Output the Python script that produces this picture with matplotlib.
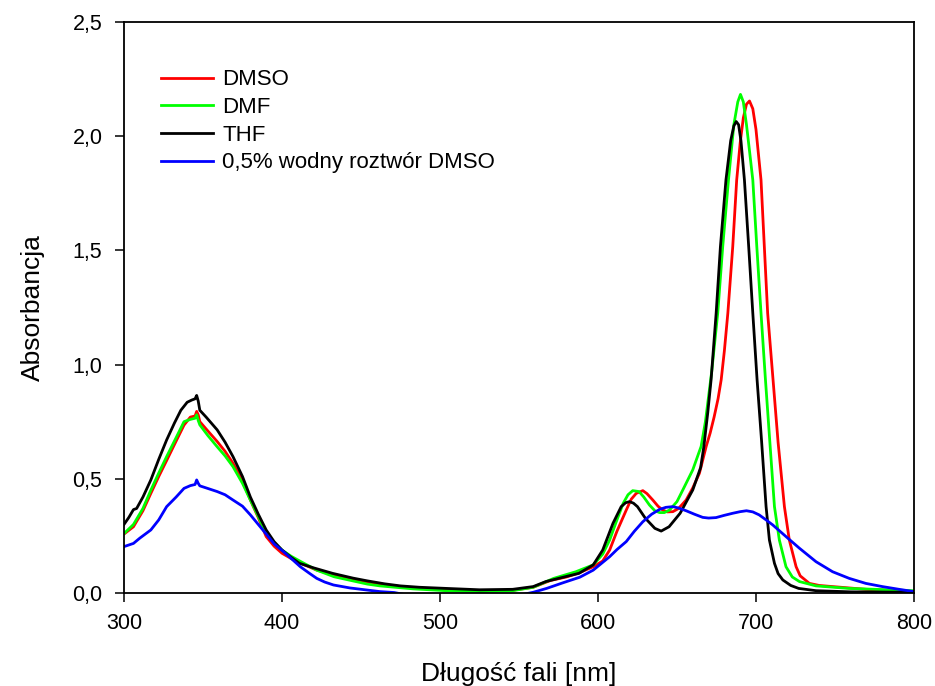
import matplotlib
matplotlib.use("Agg")
import matplotlib.pyplot as plt
from matplotlib.ticker import FuncFormatter

plt.rcParams['font.family'] = ['Liberation Sans', 'DejaVu Sans']

# ---- data ----
wl_thf = [300, 303, 306, 308, 312, 317, 322, 327, 332, 336, 340, 343, 345, 346, 347, 348,
          352, 359, 364, 369, 375, 380, 385, 390, 395, 400, 405, 411, 420, 432, 445, 454,
          465, 475, 487, 504, 525, 546, 559, 567, 578, 588, 597, 603, 609.5, 614.7, 617.5,
          620, 622.5, 625, 630, 636, 640, 645, 652, 660, 665, 667, 669.5, 671.6, 674.8,
          677.5, 681, 684, 686, 687.5, 689, 690.5, 692.7, 695.4, 698, 700.7, 703.5, 706.4,
          708.5, 711.7, 714, 717, 722, 727, 738, 760, 800]
a_thf = [0.30, 0.33, 0.365, 0.37, 0.42, 0.495, 0.585, 0.67, 0.745, 0.80, 0.835, 0.845,
         0.85, 0.865, 0.84, 0.80, 0.77, 0.714, 0.66, 0.597, 0.51, 0.42, 0.345, 0.276,
         0.225, 0.188, 0.16, 0.13, 0.11, 0.086, 0.065, 0.053, 0.04, 0.031, 0.025, 0.02,
         0.014, 0.016, 0.028, 0.05, 0.069, 0.086, 0.123, 0.188, 0.305, 0.378, 0.395, 0.40,
         0.393, 0.378, 0.327, 0.283, 0.271, 0.29, 0.349, 0.451, 0.55, 0.64, 0.79, 0.934,
         1.225, 1.516, 1.808, 1.98, 2.045, 2.064, 2.05, 1.98, 1.808, 1.516, 1.225, 0.934,
         0.67, 0.378, 0.232, 0.13, 0.085, 0.057, 0.033, 0.02, 0.01, 0.005, 0.003]

wl_dmf = [300, 306, 312, 317, 322, 327, 333, 338, 342, 345, 346, 347, 348, 353, 359, 364,
          369, 375, 380, 385, 390, 395, 400, 406, 412, 422, 433, 454, 462, 483, 504, 525,
          546, 559, 572, 586, 597, 603, 607.4, 612, 616, 619, 622, 626, 629, 632.6, 636,
          639, 642, 645.3, 650, 653.7, 660, 665.3, 668, 672, 675.8, 679, 682.6, 686, 688.5,
          690.2, 692, 694, 696, 698, 700.5, 703.2, 706, 709, 711.7, 714.8, 719, 723, 727.5,
          738, 759, 799]
a_dmf = [0.26, 0.30, 0.37, 0.45, 0.525, 0.597, 0.68, 0.75, 0.76, 0.765, 0.78, 0.755, 0.736,
         0.69, 0.64, 0.60, 0.553, 0.48, 0.407, 0.335, 0.261, 0.22, 0.188, 0.16, 0.137, 0.10,
         0.071, 0.039, 0.031, 0.018, 0.01, 0.006, 0.01, 0.025, 0.064, 0.093, 0.123, 0.17,
         0.232, 0.32, 0.393, 0.43, 0.448, 0.444, 0.42, 0.385, 0.36, 0.352, 0.352, 0.363,
         0.40, 0.451, 0.539, 0.642, 0.75, 0.97, 1.225, 1.52, 1.808, 2.05, 2.15, 2.183,
         2.15, 2.05, 1.93, 1.808, 1.52, 1.225, 0.934, 0.64, 0.378, 0.232, 0.115, 0.07,
         0.05, 0.031, 0.02, 0.01]

wl_dmso = [300, 306, 312, 317, 322, 327, 333, 338, 342, 345, 346, 347, 348, 353, 359, 364,
           369, 375, 380, 385, 390, 395, 400, 406, 412, 422, 433, 454, 462, 483, 504, 525,
           546, 559, 570, 580, 588, 597, 603, 607.4, 612, 617.9, 621, 624.2, 628.4, 631,
           634.7, 638, 641, 644, 647.4, 651, 655.8, 660, 664.2, 668.5, 671, 673.5, 676,
           678, 680, 682.2, 685.3, 687.8, 690, 692, 694, 695.9, 698, 700, 703.2, 705.3,
           707.4, 710.5, 714, 718, 721.1, 725.4, 728, 733.8, 740, 748.5, 769.5, 800]
a_dmso = [0.258, 0.29, 0.36, 0.436, 0.51, 0.58, 0.665, 0.735, 0.77, 0.775, 0.795, 0.78,
          0.75, 0.71, 0.663, 0.62, 0.568, 0.49, 0.407, 0.33, 0.247, 0.205, 0.174, 0.15,
          0.13, 0.10, 0.079, 0.045, 0.038, 0.022, 0.013, 0.009, 0.012, 0.025, 0.055, 0.07,
          0.088, 0.115, 0.14, 0.188, 0.27, 0.363, 0.41, 0.436, 0.448, 0.435, 0.407, 0.38,
          0.363, 0.355, 0.356, 0.37, 0.407, 0.46, 0.524, 0.642, 0.70, 0.77, 0.85, 0.934,
          1.06, 1.225, 1.516, 1.808, 1.97, 2.08, 2.14, 2.154, 2.12, 2.03, 1.808, 1.516,
          1.225, 0.96, 0.66, 0.378, 0.232, 0.115, 0.075, 0.042, 0.033, 0.028, 0.016, 0.006]

wl_aq = [300, 303, 306, 310, 317, 322, 327, 333, 338, 342, 345, 346, 347, 348, 352, 359,
         364, 369, 375, 380, 385, 390.5, 395, 401, 406, 411.6, 417, 422, 427, 432.6, 443,
         453.7, 462, 471, 480, 550, 559, 567.5, 578, 588.5, 597, 607.4, 612, 617.9, 623,
         628.4, 634, 639, 643, 647.4, 651, 655.8, 661, 666.3, 670, 674.7, 680, 685.3, 690,
         694, 698, 702, 706, 710.6, 719, 727.5, 738, 748.5, 759, 769.5, 780, 790.6, 800]
a_aq = [0.203, 0.21, 0.217, 0.24, 0.276, 0.32, 0.378, 0.42, 0.458, 0.47, 0.475, 0.495,
        0.48, 0.469, 0.46, 0.444, 0.43, 0.407, 0.38, 0.342, 0.30, 0.254, 0.215, 0.181,
        0.15, 0.115, 0.088, 0.064, 0.048, 0.035, 0.022, 0.013, 0.006, 0.002, -0.01, -0.01,
        0.003, 0.02, 0.045, 0.069, 0.10, 0.159, 0.19, 0.225, 0.27, 0.312, 0.345, 0.366,
        0.375, 0.378, 0.372, 0.36, 0.345, 0.331, 0.328, 0.33, 0.34, 0.349, 0.356, 0.36,
        0.355, 0.342, 0.322, 0.298, 0.247, 0.196, 0.137, 0.093, 0.064, 0.042, 0.028,
        0.016, 0.006]

labels = ["DMSO", "DMF", "THF", "0,5% wodny roztwór DMSO"]
colors = ["#FF0000", "#00FF00", "#000000", "#0000FF"]

x_ticks = [300, 400, 500, 600, 700, 800]
y_ticks = [0.0, 0.5, 1.0, 1.5, 2.0, 2.5]

# ---- plot ----
fig = plt.figure(figsize=(9.35, 6.86), dpi=100)
ax = fig.add_axes([0.1326, 0.1356, 0.8449, 0.8324])

series = [(wl_dmso, a_dmso), (wl_dmf, a_dmf), (wl_thf, a_thf), (wl_aq, a_aq)]
for (wl, a), lab, col in zip(series, labels, colors):
    ax.plot(wl, a, color=col, lw=2.0, label=lab, solid_joinstyle='round')

ax.set_xlim(300, 800)
ax.set_ylim(0, 2.5)
ax.set_xticks(x_ticks)
ax.set_yticks(y_ticks)
ax.yaxis.set_major_formatter(FuncFormatter(lambda v, p: f"{v:.1f}".replace(".", ",")))
ax.tick_params(direction='out', length=6.5, width=1.1, labelsize=15.5)
ax.tick_params(axis='y', pad=9)
ax.tick_params(axis='x', pad=8)
for s in ax.spines.values():
    s.set_linewidth(1.3)

ax.set_xlabel("Długość fali [nm]", fontsize=19, labelpad=20)
ax.set_ylabel("Absorbancja", fontsize=19, labelpad=20)

leg = ax.legend(loc='upper left', bbox_to_anchor=(0.172, 0.899),
                bbox_transform=fig.transFigure, frameon=False, fontsize=16,
                handlelength=2.35, handletextpad=0.42, labelspacing=0.3,
                borderpad=0, borderaxespad=0)

fig.savefig("out.png", dpi=100)
